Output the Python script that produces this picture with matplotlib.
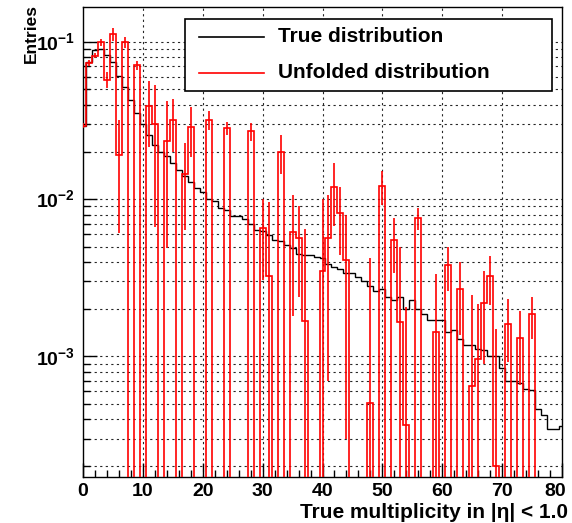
import matplotlib
matplotlib.use('Agg')
import matplotlib.pyplot as plt
from matplotlib.patches import Rectangle
from matplotlib.lines import Line2D
from matplotlib.transforms import ScaledTranslation
import numpy as np

plt.rcParams['font.family'] = ['Liberation Sans', 'DejaVu Sans']
plt.rcParams['font.weight'] = 'bold'
plt.rcParams['mathtext.fontset'] = 'custom'
plt.rcParams['mathtext.rm'] = 'Liberation Sans:bold'
plt.rcParams['mathtext.bf'] = 'Liberation Sans:bold'

# multiplicity bins 0..80 (unit width, centred on integers)
multiplicity = np.arange(81)

true_dist = [
    0.0294, 0.075, 0.0885, 0.090, 0.0831, 0.0743, 0.0611, 0.0515, 0.0426, 0.0354,
    0.0303, 0.0258, 0.0223, 0.0200, 0.0188, 0.0169, 0.0154, 0.0140, 0.0128, 0.0118,
    0.0111, 0.01005, 0.0097, 0.0088, 0.0085, 0.0078, 0.0078, 0.0075, 0.0070, 0.0064,
    0.0063, 0.0059, 0.0055, 0.0054, 0.0051, 0.0049, 0.0045, 0.0044, 0.0044, 0.0043,
    0.0042, 0.0039, 0.0037, 0.0036, 0.0034, 0.0034, 0.0032, 0.0030, 0.0028, 0.0026,
    0.0027, 0.0024, 0.0023, 0.0024, 0.0020, 0.0023, 0.0020, 0.00185, 0.0017, 0.0017,
    0.0017, 0.00143, 0.00147, 0.00129, 0.00118, 0.00118, 0.00112, 0.00110, 0.00100, 0.00100,
    0.000845, 0.000695, 0.000695, 0.000673, 0.000622, 0.00061, 0.000465, 0.000427, 0.000343, 0.000343,
    0.00036,
]

unfolded = [
    0.0294, 0.0735, 0.0818, 0.0995, 0.0577, 0.1124, 0.0191, 0.0995, 0.0, 0.0711,
    0.0, 0.039, 0.0301, 0.0, 0.0234, 0.0318, 0.0, 0.01456, 0.0288, 0.0,
    0.0, 0.0318, 0.0, 0.0, 0.0284, 0.0, 0.0, 0.0, 0.0270, 0.0,
    0.00658, 0.00324, 0.0, 0.0200, 0.0, 0.0062, 0.0057, 0.00169, 0.0, 0.0,
    0.0035, 0.0057, 0.0119, 0.0082, 0.0041, 0.0, 0.0, 0.0, 0.000508, 0.0,
    0.0122, 0.0, 0.0055, 0.00165, 0.000364, 0.0, 0.0076, 0.0, 0.0, 0.00144,
    0.0, 0.0038, 0.0, 0.00267, 0.0, 0.00065, 0.00096, 0.0022, 0.00324, 0.0002,
    0.0, 0.00162, 0.0, 0.00131, 0.0, 0.00185, 0.0, 0.0, 0.0, 0.0,
    0.0,
]

unfolded_err = [
    0.001, 0.003, 0.003, 0.005, 0.007, 0.011, 0.013, 0.0075, 0.0, 0.005,
    0.0, 0.0175, 0.0234, 0.0, 0.0185, 0.0117, 0.0, 0.0082, 0.0101, 0.0,
    0.0, 0.0044, 0.0, 0.0, 0.0028, 0.0, 0.0, 0.0, 0.0035, 0.0,
    0.0035, 0.0064, 0.0, 0.0055, 0.0, 0.0044, 0.0033, 0.0048, 0.0, 0.0,
    0.0065, 0.005, 0.0051, 0.0038, 0.0038, 0.0, 0.0, 0.0, 0.0037, 0.0,
    0.003, 0.0, 0.0021, 0.0033, 0.0017, 0.0, 0.0012, 0.0, 0.0, 0.0019,
    0.0, 0.0012, 0.0, 0.0013, 0.0, 0.0018, 0.0012, 0.0013, 0.0011, 0.0013,
    0.0, 0.0007, 0.0, 0.00065, 0.0, 0.00055, 0.0, 0.0, 0.0, 0.0,
    0.0,
]

W, H = 572, 523
fig = plt.figure(figsize=(W / 100, H / 100), dpi=100)
ax = fig.add_axes([83 / W, 1 - 477 / H, (562 - 83) / W, (477 - 6.7) / H])
ax.set_yscale('log')

edges = np.append(multiplicity - 0.5, multiplicity[-1] + 0.5)
true_arr = np.array(true_dist)
unf = np.array(unfolded)
err = np.array(unfolded_err)
floor = 1e-7  # empty bins drop below the axis

ax.stairs(true_arr, edges, baseline=None, color='black', lw=1.0, zorder=3)
ax.stairs(np.where(unf > 0, unf, floor), edges, baseline=None,
          color='#ff0000', lw=1.2, zorder=4)
m = unf > 0
lo = np.maximum(unf[m] - err[m], floor)
hi = unf[m] + err[m]
ax.vlines(multiplicity[m], lo, hi, color='#ff0000', lw=1.2, zorder=4)

ax.set_xlim(0, 80)
ax.set_ylim(1.71e-4, 0.168)

# grid, ROOT style
grid_kw = dict(color='0.15', lw=0.8, linestyle=(0, (2, 3)), zorder=1)
for gx in range(10, 80, 10):
    ax.axvline(gx, **grid_kw)
for dec in [1e-4, 1e-3, 1e-2, 1e-1]:
    for k in range(1, 10):
        gy = dec * k
        if 1.71e-4 < gy < 0.168:
            ax.axhline(gy, **grid_kw)

ax.set_xticks(range(0, 81, 10))
ax.set_xticks(range(0, 81, 2), minor=True)
ax.set_xticklabels([str(v) for v in range(0, 81, 10)], fontsize=14, fontweight='bold')
ax.set_yticks([1e-3, 1e-2, 1e-1])
ax.set_yticklabels([r'$10^{-3}$', r'$10^{-2}$', r'$10^{-1}$'], fontsize=14)
ax.yaxis.set_minor_locator(matplotlib.ticker.LogLocator(base=10, subs=np.arange(2, 10)))
ax.yaxis.set_minor_formatter(matplotlib.ticker.NullFormatter())
ax.tick_params(axis='x', which='major', direction='in', length=10, width=1, pad=4)
ax.tick_params(axis='x', which='minor', direction='in', length=5, width=1)
ax.tick_params(axis='y', which='major', direction='in', length=10, width=1, pad=6)
ax.tick_params(axis='y', which='minor', direction='in', length=5, width=1)
for sp in ax.spines.values():
    sp.set_linewidth(1.0)

# keep the last x label inside the canvas
last = ax.xaxis.get_major_ticks()[-1].label1
last.set_transform(last.get_transform() + ScaledTranslation(-7 / 100, 0, fig.dpi_scale_trans))

fig.text(568 / W, 1 - 513 / H, 'True multiplicity in |η| < 1.0',
         ha='right', va='center', fontsize=15, fontweight='bold')
fig.text(31 / W, 1 - 4 / H, 'Entries', rotation=90, ha='center', va='top',
         fontsize=12.5, fontweight='bold')

# legend box
x0, x1, ytop, ybot = 185, 552, 19, 91
fig.patches.append(Rectangle((x0 / W, 1 - ybot / H), (x1 - x0) / W, (ybot - ytop) / H,
                             transform=fig.transFigure, facecolor='white',
                             edgecolor='black', lw=1.2, zorder=10))
for yy, col, lab in [(37, 'black', 'True distribution'),
                     (73, '#ff0000', 'Unfolded distribution')]:
    fig.lines.append(Line2D([199 / W, 264 / W], [1 - yy / H, 1 - yy / H],
                            transform=fig.transFigure, color=col, lw=1.2, zorder=11))
    fig.text(278 / W, 1 - yy / H, lab, ha='left', va='center', fontsize=15,
             fontweight='bold', zorder=12)

fig.savefig('out.png', dpi=100)
